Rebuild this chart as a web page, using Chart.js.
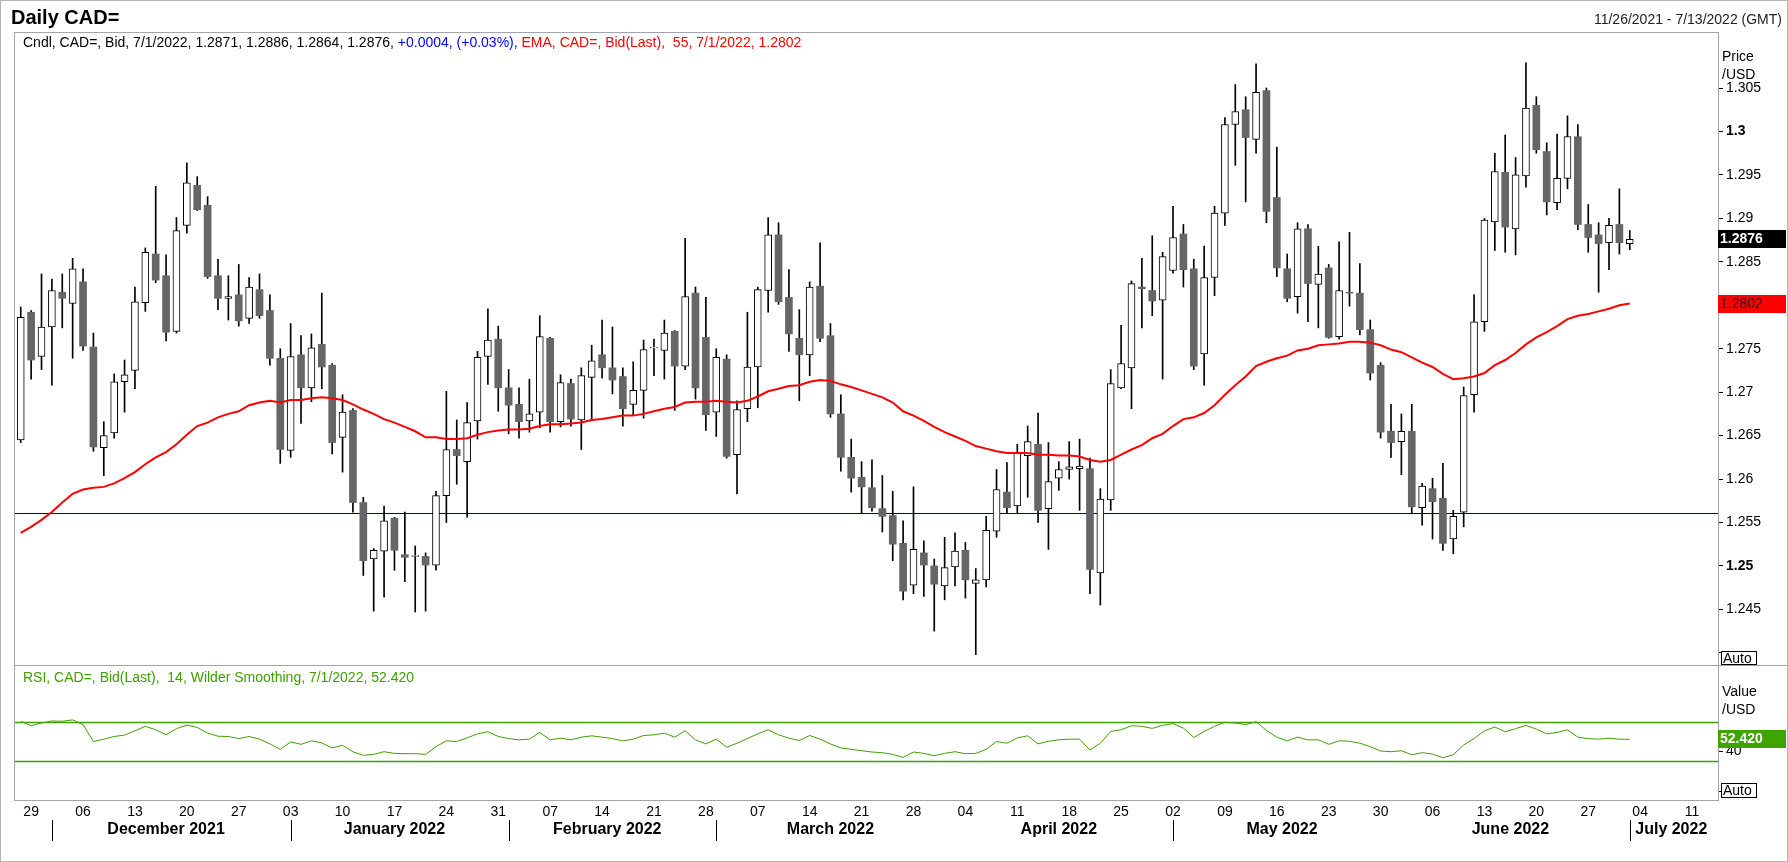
<!DOCTYPE html>
<html><head><meta charset="utf-8">
<script src="https://cdn.jsdelivr.net/npm/chart.js@4.4.1/dist/chart.umd.min.js"></script>
<style>
html,body{margin:0;padding:0;background:#fff;}
#wrap{position:relative;width:1788px;height:862px;overflow:hidden;background:#fff;}
#c1{position:absolute;left:0;top:0;width:1788px;height:665px;}
#c2{position:absolute;left:0;top:665px;width:1788px;height:197px;}
#frame{position:absolute;left:0;top:0;width:1788px;height:862px;box-sizing:border-box;border:1px solid #b4b4b4;pointer-events:none;}
</style></head><body>
<div id="wrap"><canvas id="c1" width="1788" height="665"></canvas><canvas id="c2" width="1788" height="197"></canvas><div id="frame"></div></div>
<script>
// ---------- DATA ----------
const firstDate = [2021, 10, 26];   // 26 Nov 2021 (UTC, month 0-based)
const slotCount = 164;              // weekdays 26 Nov 2021 .. 13 Jul 2022

const open = [1.2645,1.2792,1.2741,1.2775,1.2815,1.2802,1.2827,1.2752,1.2636,1.2653,
1.2712,1.2725,1.2803,1.2859,1.2834,1.2770,1.2892,1.2938,1.2915,1.2834,
1.2808,1.2812,1.2785,1.2818,1.2794,1.2739,1.2633,1.2743,1.2705,1.2755,
1.2731,1.2648,1.2679,1.2573,1.2508,1.2517,1.2555,1.2513,1.2511,1.2511,
1.2501,1.2581,1.2634,1.2620,1.2667,1.2741,1.2761,1.2705,1.2686,1.2667,
1.2677,1.2762,1.2666,1.2710,1.2668,1.2717,1.2743,1.2728,1.2718,1.2686,
1.2702,1.2751,1.2748,1.2770,1.2730,1.2814,1.2763,1.2677,1.2738,1.2628,
1.2681,1.2729,1.2817,1.2881,1.2809,1.2762,1.2743,1.2822,1.2765,1.2675,
1.2625,1.2602,1.2590,1.2566,1.2558,1.2526,1.2478,1.2515,1.2500,1.2477,
1.2499,1.2518,1.2480,1.2484,1.2540,1.2585,1.2569,1.2627,1.2640,1.2566,
1.2601,1.2611,1.2612,1.2612,1.2492,1.2576,1.2705,1.2728,1.2821,1.2817,
1.2806,1.2840,1.2882,1.2842,1.2744,1.2832,1.2906,1.3008,1.3025,1.2991,
1.3047,1.2924,1.2842,1.2810,1.2888,1.2824,1.2843,1.2764,1.2815,1.2814,
1.2772,1.2731,1.2655,1.2643,1.2655,1.2567,1.2589,1.2578,1.2531,1.2562,
1.2697,1.2781,1.2896,1.2953,1.2888,1.2949,1.3030,1.2977,1.2918,1.2946,
1.2994,1.2893,1.2881,1.2872,1.2893,1.2871];
const high = [1.2798,1.2794,1.2836,1.2830,1.2836,1.2854,1.2842,1.2768,1.2666,1.2721,
1.2737,1.2821,1.2866,1.2937,1.2858,1.2901,1.2964,1.2948,1.2925,1.2853,
1.2834,1.2847,1.2832,1.2836,1.2812,1.2750,1.2779,1.2765,1.2767,1.2814,
1.2733,1.2697,1.2681,1.2579,1.2520,1.2569,1.2556,1.2562,1.2523,1.2515,
1.2586,1.2701,1.2668,1.2688,1.2747,1.2796,1.2776,1.2726,1.2705,1.2715,
1.2788,1.2763,1.2720,1.2715,1.2728,1.2754,1.2783,1.2775,1.2728,1.2735,
1.2760,1.2761,1.2783,1.2771,1.2877,1.2821,1.2809,1.2750,1.2743,1.2690,
1.2792,1.2821,1.2901,1.2895,1.2841,1.2795,1.2827,1.2872,1.2779,1.2697,
1.2646,1.2620,1.2622,1.2604,1.2586,1.2552,1.2591,1.2529,1.2508,1.2533,
1.2538,1.2527,1.2497,1.2557,1.2611,1.2619,1.2640,1.2661,1.2676,1.2642,
1.2620,1.2643,1.2646,1.2624,1.2589,1.2726,1.2777,1.2828,1.2854,1.2880,
1.2861,1.2914,1.2893,1.2853,1.2868,1.2914,1.3016,1.3054,1.3040,1.3078,
1.3050,1.2982,1.2859,1.2895,1.2893,1.2868,1.2847,1.2873,1.2884,1.2848,
1.2783,1.2734,1.2686,1.2675,1.2686,1.2595,1.2601,1.2618,1.2564,1.2706,
1.2812,1.2900,1.2975,1.2996,1.2970,1.3079,1.3040,1.2987,1.2997,1.3018,
1.3008,1.2916,1.2895,1.2900,1.2934,1.2886];
const low = [1.2642,1.2715,1.2726,1.2708,1.2774,1.2739,1.2748,1.2632,1.2604,1.2647,
1.2677,1.2704,1.2793,1.2826,1.2759,1.2768,1.2883,1.2909,1.2831,1.2795,
1.2783,1.2776,1.2779,1.2785,1.2731,1.2618,1.2625,1.2664,1.2689,1.2704,
1.2629,1.2608,1.2562,1.2489,1.2448,1.2464,1.2495,1.2482,1.2447,1.2448,
1.2495,1.2550,1.2594,1.2556,1.2646,1.2709,1.2678,1.2652,1.2647,1.2654,
1.2659,1.2654,1.2660,1.2661,1.2634,1.2667,1.2716,1.2698,1.2661,1.2674,
1.2670,1.2719,1.2715,1.2679,1.2726,1.2692,1.2656,1.2649,1.2624,1.2583,
1.2666,1.2682,1.2792,1.2801,1.2747,1.2690,1.2719,1.2758,1.2671,1.2609,
1.2585,1.2561,1.2563,1.2539,1.2506,1.2461,1.2468,1.2465,1.2425,1.2461,
1.2477,1.2463,1.2398,1.2476,1.2533,1.2561,1.2561,1.2579,1.2550,1.2519,
1.2587,1.2600,1.2564,1.2468,1.2455,1.2564,1.2704,1.2681,1.2774,1.2788,
1.2715,1.2837,1.2821,1.2726,1.2708,1.2811,1.2892,1.2961,1.2919,1.2975,
1.2895,1.2833,1.2804,1.2791,1.2781,1.2774,1.2762,1.2761,1.2799,1.2766,
1.2714,1.2647,1.2625,1.2605,1.2560,1.2547,1.2531,1.2518,1.2514,1.2545,
1.2677,1.2770,1.2863,1.2861,1.2858,1.2936,1.2975,1.2904,1.2910,1.2934,
1.2887,1.2861,1.2815,1.2841,1.2859,1.2864];
const close = [1.2786,1.2737,1.2775,1.2817,1.2808,1.2842,1.2753,1.2637,1.2650,1.2712,
1.2720,1.2804,1.2861,1.2829,1.2769,1.2886,1.2941,1.2910,1.2833,1.2808,
1.2810,1.2782,1.2821,1.2788,1.2739,1.2634,1.2741,1.2705,1.2751,1.2729,
1.2642,1.2677,1.2573,1.2506,1.2518,1.2552,1.2518,1.2510,1.2512,1.2501,
1.2581,1.2634,1.2627,1.2665,1.2740,1.2760,1.2705,1.2685,1.2666,1.2675,
1.2764,1.2666,1.2711,1.2669,1.2719,1.2736,1.2728,1.2714,1.2681,1.2702,
1.2749,1.2752,1.2768,1.2730,1.2810,1.2705,1.2674,1.2740,1.2626,1.2680,
1.2729,1.2818,1.2881,1.2804,1.2767,1.2743,1.2821,1.2762,1.2675,1.2625,
1.2601,1.2591,1.2567,1.2557,1.2525,1.2471,1.2519,1.2501,1.2479,1.2498,
1.2517,1.2484,1.2484,1.2541,1.2588,1.2567,1.2631,1.2643,1.2564,1.2597,
1.2611,1.2614,1.2615,1.2496,1.2577,1.2710,1.2733,1.2825,1.2819,1.2805,
1.2856,1.2878,1.2841,1.2730,1.2832,1.2906,1.3008,1.3023,1.2993,1.3045,
1.2908,1.2843,1.2808,1.2888,1.2825,1.2836,1.2763,1.2817,1.2814,1.2772,
1.2722,1.2654,1.2642,1.2655,1.2568,1.2592,1.2574,1.2526,1.2557,1.2696,
1.2781,1.2898,1.2954,1.2890,1.2950,1.3027,1.2979,1.2919,1.2946,1.2994,
1.2893,1.2878,1.2871,1.2892,1.2872,1.2876];
const ema55 = [1.2538,1.2545,1.2553,1.2562,1.2573,1.2583,1.2588,1.2590,1.2591,1.2595,
1.2601,1.2608,1.2617,1.2625,1.2631,1.2640,1.2651,1.2661,1.2665,1.2671,
1.2675,1.2678,1.2685,1.2688,1.2690,1.2688,1.2691,1.2691,1.2693,1.2694,
1.2693,1.2691,1.2686,1.2680,1.2675,1.2669,1.2665,1.2660,1.2655,1.2648,
1.2648,1.2646,1.2646,1.2647,1.2651,1.2654,1.2656,1.2657,1.2657,1.2658,
1.2661,1.2663,1.2663,1.2664,1.2665,1.2668,1.2669,1.2671,1.2673,1.2673,
1.2675,1.2678,1.2681,1.2683,1.2688,1.2689,1.2689,1.2690,1.2689,1.2688,
1.2690,1.2695,1.2701,1.2704,1.2707,1.2708,1.2712,1.2714,1.2713,1.2709,
1.2706,1.2702,1.2698,1.2694,1.2688,1.2678,1.2673,1.2667,1.2660,1.2654,
1.2649,1.2644,1.2638,1.2635,1.2632,1.2630,1.2630,1.2630,1.2628,1.2628,
1.2627,1.2627,1.2626,1.2622,1.2620,1.2622,1.2628,1.2634,1.2639,1.2647,
1.2652,1.2661,1.2669,1.2671,1.2676,1.2685,1.2697,1.2708,1.2718,1.2730,
1.2735,1.2739,1.2742,1.2748,1.2750,1.2754,1.2755,1.2756,1.2758,1.2758,
1.2757,1.2754,1.2749,1.2746,1.2740,1.2734,1.2729,1.2721,1.2715,1.2716,
1.2718,1.2722,1.2731,1.2737,1.2745,1.2755,1.2763,1.2769,1.2776,1.2784,
1.2788,1.2790,1.2793,1.2796,1.2800,1.2802];
const rsi14 = [70.7,66.2,69.0,71.0,70.7,72.1,67.3,50.2,52.6,55.3,
56.7,61.1,65.6,62.1,57.0,63.2,66.9,64.5,58.7,55.6,
55.3,53.2,55.3,52.6,47.8,42.3,49.8,47.4,50.9,48.8,
43.7,46.4,39.9,36.2,37.2,39.9,38.2,37.9,37.9,37.2,
45.0,50.9,50.2,53.9,58.0,60.1,55.3,53.2,51.9,52.6,
59.4,51.9,53.6,51.9,54.6,56.0,54.6,53.2,50.9,52.6,
56.3,57.0,58.7,54.6,61.1,51.9,47.8,52.6,44.4,48.5,
53.2,58.0,62.1,57.0,53.6,51.2,56.3,52.6,47.8,43.7,
42.3,40.9,39.6,38.9,37.2,34.1,39.6,38.2,35.8,38.2,
39.9,37.9,38.2,42.3,50.2,48.5,53.9,56.0,47.8,50.5,
51.9,52.6,52.6,41.6,48.5,60.4,62.1,66.2,65.6,63.5,
66.6,68.3,63.8,54.3,60.4,65.6,69.7,69.0,67.3,70.3,
61.5,54.6,50.9,54.6,51.9,51.9,47.4,50.9,50.5,48.5,
45.0,40.6,39.9,40.9,36.8,38.9,37.5,33.8,36.8,46.8,
53.2,61.1,64.9,60.1,63.2,66.6,62.8,58.0,59.4,62.1,
54.6,53.2,52.6,53.6,52.6,52.42];

const refLevel = 1.2561;
const rsiLevels = [70, 30];
const priceTicks = [1.24,1.245,1.25,1.255,1.26,1.265,1.27,1.275,1.28,1.285,1.29,1.295,1.3,1.305];
const priceTickLabels = ['','1.245','1.25','1.255','1.26','1.265','1.27','1.275','','1.285','1.29','1.295','1.3','1.305'];
const boldPriceTicks = [1.25, 1.3];
const rsiTicks = [0, 40];
const rsiTickLabels = ['', '40'];
const monthKeys = ['2021-12','2022-01','2022-02','2022-03','2022-04','2022-05','2022-06','2022-07'];
const monthLabels = ['December 2021','January 2022','February 2022','March 2022','April 2022','May 2022','June 2022','July 2022'];
const separatorMonths = ['2021-12','2022-01','2022-02','2022-03','2022-05','2022-07'];

const titleText = 'Daily CAD=';
const rangeText = '11/26/2021 - 7/13/2022 (GMT)';
const headerSegments = [
  ['Cndl, CAD=, Bid, 7/1/2022, 1.2871, 1.2886, 1.2864, 1.2876, ', '#000000'],
  ['+0.0004, (+0.03%), ', '#0000ff'],
  ['EMA, CAD=, Bid(Last),  55, 7/1/2022, 1.2802', '#ff0000']
];
const rsiHeader = 'RSI, CAD=, Bid(Last),  14, Wilder Smoothing, 7/1/2022, 52.420';

// ---------- helpers ----------
const FONT = '"Liberation Sans", Arial, Helvetica, sans-serif';
const GREEN = '#3fa000';
const FRAME = '#a4a4ae';
const dates = [];
(function(){ const d = new Date(Date.UTC(firstDate[0], firstDate[1], firstDate[2]));
  while (dates.length < slotCount){ const w = d.getUTCDay(); if (w !== 0 && w !== 6) dates.push(new Date(d)); d.setUTCDate(d.getUTCDate()+1); } })();
const monthKey = d => d.getUTCFullYear() + '-' + String(d.getUTCMonth()+1).padStart(2,'0');
const mondayIdx = []; dates.forEach((d,i)=>{ if (d.getUTCDay()===1) mondayIdx.push(i); });
const dayLabel = {}; mondayIdx.forEach(i => dayLabel[i] = String(dates[i].getUTCDate()).padStart(2,'0'));
const X_MIN = -0.65, X_MAX = 163.5;

const idx = close.map((_, i) => i);
const isUp = idx.map(i => close[i] >= open[i]);

function fixAxis(w){ return s => { s.width = w; s.paddingTop = 0; s.paddingBottom = 0; s.paddingLeft = 0; s.paddingRight = 0; }; }
function badge(ctx, area, y, text, bg, fg, bold){
  ctx.save();
  ctx.fillStyle = bg; ctx.fillRect(area.right, Math.round(y) - 9, 68, 18);
  ctx.fillStyle = fg; ctx.font = (bold ? 'bold ' : '') + '14px ' + FONT;
  ctx.textBaseline = 'middle'; ctx.textAlign = 'left';
  ctx.fillText(text, area.right + 2, Math.round(y) + 0.5);
  ctx.restore();
}
function autoBox(ctx, x, y, w, h){
  ctx.save(); ctx.fillStyle = '#fff'; ctx.fillRect(x, y, w, h);
  ctx.strokeStyle = '#000'; ctx.lineWidth = 1; ctx.strokeRect(x + 0.5, y + 0.5, w - 1, h - 1);
  ctx.fillStyle = '#000'; ctx.font = '14px ' + FONT; ctx.textBaseline = 'middle'; ctx.textAlign = 'left';
  ctx.fillText('Auto', x + 2, y + h/2 + 1); ctx.restore();
}

// ---------- main price chart ----------
const mainPlugin = {
  id: 'mainDecor',
  beforeDatasetsDraw(chart){
    const {ctx, chartArea: a, scales: {y}} = chart;
    const yy = Math.round(y.getPixelForValue(refLevel)) + 0.5;
    ctx.save(); ctx.strokeStyle = '#000080'; ctx.lineWidth = 1;
    ctx.beginPath(); ctx.moveTo(a.left, yy); ctx.lineTo(a.right, yy); ctx.stroke(); ctx.restore();
  },
  afterDraw(chart){
    const {ctx, chartArea: a, scales: {y}} = chart;
    ctx.save();
    ctx.strokeStyle = FRAME; ctx.lineWidth = 1;
    ctx.strokeRect(a.left + 0.5, a.top + 0.5, a.right - a.left, a.bottom - a.top);
    ctx.textBaseline = 'middle'; ctx.textAlign = 'left';
    ctx.fillStyle = '#000'; ctx.font = 'bold 20px ' + FONT; ctx.fillText(titleText, 11, 18);
    ctx.font = '14px ' + FONT; ctx.textAlign = 'right'; ctx.fillStyle = '#222'; ctx.fillText(rangeText, 1782, 20);
    ctx.textAlign = 'left';
    let x = 23;
    for (const [t, c] of headerSegments){ ctx.fillStyle = c; ctx.fillText(t, x, 43); x += ctx.measureText(t).width; }
    ctx.fillStyle = '#000'; ctx.fillText('Price', 1722, 57); ctx.fillText('/USD', 1722, 75);
    ctx.restore();
    badge(ctx, a, y.getPixelForValue(ema55[ema55.length-1]), ema55[ema55.length-1].toFixed(4), '#ff0000', '#3a0000', false);
    badge(ctx, a, y.getPixelForValue(close[close.length-1]), close[close.length-1].toFixed(4), '#000000', '#ffffff', true);
    autoBox(ctx, 1721, 651, 36, 14);
  }
};

new Chart(document.getElementById('c1'), {
  data: {
    datasets: [
      { type: 'bar', label: 'wick', data: idx.map(i => ({x: i, y: [low[i], high[i]]})),
        backgroundColor: '#000', borderWidth: 0, barThickness: 1, grouped: false, order: 3 },
      { type: 'bar', label: 'body', data: idx.map(i => ({x: i, y: [open[i], close[i]]})),
        backgroundColor: idx.map(i => isUp[i] ? '#ffffff' : '#666666'),
        borderColor: idx.map(i => isUp[i] ? '#000000' : '#666666'),
        borderWidth: idx.map(i => isUp[i] ? 1 : 0), borderSkipped: false,
        barThickness: 7, grouped: false, order: 2 },
      { type: 'line', label: 'EMA', data: idx.map(i => ({x: i, y: ema55[i]})),
        borderColor: '#ff0000', borderWidth: 2, pointRadius: 0, tension: 0, order: 1 }
    ]
  },
  options: {
    responsive: false, animation: false, events: [], devicePixelRatio: 1,
    layout: { padding: { left: 14, top: 32, right: 0, bottom: 0 } },
    plugins: { legend: { display: false }, tooltip: { enabled: false } },
    scales: {
      x: { type: 'linear', min: X_MIN, max: X_MAX, display: false, offset: false, grid: { offset: false } },
      y: { type: 'linear', position: 'right', min: 1.2386, max: 1.31145,
        grid: { drawOnChartArea: false, drawTicks: true, tickLength: 5, color: '#000', tickWidth: 1 },
        border: { display: false },
        afterBuildTicks: s => { s.ticks = priceTicks.map(v => ({value: v})); },
        afterFit: fixAxis(70),
        ticks: { color: '#000', padding: 3, autoSkip: false,
          font: c => ({ family: FONT, size: 14, weight: (c.tick && boldPriceTicks.includes(c.tick.value)) ? 'bold' : 'normal' }),
          callback: v => { const k = priceTicks.indexOf(v); return k >= 0 ? priceTickLabels[k] : ''; } }
      }
    }
  },
  plugins: [mainPlugin]
});

// ---------- RSI chart ----------
const rsiPlugin = {
  id: 'rsiDecor',
  beforeDatasetsDraw(chart){
    const {ctx, chartArea: a, scales: {y}} = chart;
    ctx.save(); ctx.strokeStyle = GREEN; ctx.lineWidth = 1.5;
    for (const lv of rsiLevels){ const yy = Math.round(y.getPixelForValue(lv)) + 0.5;
      ctx.beginPath(); ctx.moveTo(a.left, yy); ctx.lineTo(a.right, yy); ctx.stroke(); }
    ctx.restore();
  },
  afterDraw(chart){
    const {ctx, chartArea: a, scales: {x, y}} = chart;
    ctx.save();
    ctx.strokeStyle = FRAME; ctx.lineWidth = 1;
    ctx.strokeRect(a.left + 0.5, a.top + 0.5, a.right - a.left, a.bottom - a.top);
    ctx.beginPath(); ctx.moveTo(a.left, 0.5); ctx.lineTo(1788, 0.5); ctx.stroke();
    ctx.textBaseline = 'middle'; ctx.textAlign = 'left';
    ctx.font = '14px ' + FONT; ctx.fillStyle = GREEN; ctx.fillText(rsiHeader, 23, 13);
    ctx.fillStyle = '#000'; ctx.fillText('Value', 1722, 27); ctx.fillText('/USD', 1722, 45);
    // month labels and separators
    ctx.font = 'bold 16px ' + FONT; ctx.textAlign = 'center'; ctx.fillStyle = '#000';
    monthKeys.forEach((k, m) => {
      const ids = dates.map((d, i) => monthKey(d) === k ? i : -1).filter(i => i >= 0);
      if (!ids.length) return;
      const cx = x.getPixelForValue((ids[0] + ids[ids.length-1]) / 2);
      ctx.fillText(monthLabels[m], cx, 165);
    });
    ctx.strokeStyle = '#000'; ctx.lineWidth = 1;
    separatorMonths.forEach(k => {
      const i0 = dates.findIndex(d => monthKey(d) === k);
      if (i0 < 0) return;
      const sx = Math.round(x.getPixelForValue(i0)) + 0.5;
      ctx.beginPath(); ctx.moveTo(sx, 155); ctx.lineTo(sx, 176); ctx.stroke();
    });
    ctx.restore();
    badge(ctx, a, y.getPixelForValue(rsi14[rsi14.length-1]), rsi14[rsi14.length-1].toFixed(3), '#3fa300', '#ffffff', true);
    autoBox(ctx, 1721, 118, 36, 15);
  }
};

new Chart(document.getElementById('c2'), {
  type: 'line',
  data: { datasets: [
    { label: 'RSI', data: idx.map(i => ({x: i, y: rsi14[i]})), borderColor: GREEN, borderWidth: 1, pointRadius: 0, tension: 0 }
  ] },
  options: {
    responsive: false, animation: false, events: [], devicePixelRatio: 1,
    layout: { padding: { left: 14, top: 0, right: 0, bottom: 0 } },
    plugins: { legend: { display: false }, tooltip: { enabled: false } },
    scales: {
      x: { type: 'linear', min: X_MIN, max: X_MAX, position: 'bottom', offset: false,
        grid: { display: false, drawTicks: false }, border: { display: false },
        afterBuildTicks: s => { s.ticks = mondayIdx.map(v => ({value: v})); },
        afterFit: s => { s.height = 62; s.paddingLeft = 0; s.paddingRight = 0; },
        ticks: { color: '#000', autoSkip: false, maxRotation: 0, minRotation: 0, padding: 4,
          font: { family: FONT, size: 14 }, callback: v => dayLabel[v] || '' } },
      y: { type: 'linear', position: 'right', min: -9, max: 127.7,
        grid: { drawOnChartArea: false, drawTicks: true, tickLength: 5, color: '#000' },
        border: { display: false },
        afterBuildTicks: s => { s.ticks = rsiTicks.map(v => ({value: v})); },
        afterFit: fixAxis(70),
        ticks: { color: '#000', padding: 3, autoSkip: false, font: { family: FONT, size: 14 },
          callback: v => { const k = rsiTicks.indexOf(v); return k >= 0 ? rsiTickLabels[k] : ''; } } }
    }
  },
  plugins: [rsiPlugin]
});
</script>
</body></html>
